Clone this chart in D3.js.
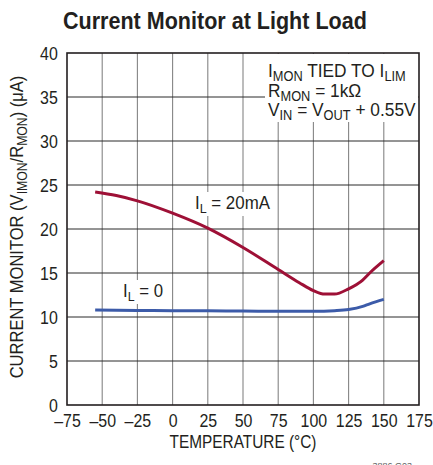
<!DOCTYPE html>
<html><head><meta charset="utf-8">
<script src="https://cdn.jsdelivr.net/npm/d3@7"></script>
<style>
body{margin:0;background:#fff;}
svg text{font-family:"Liberation Sans",Arial,sans-serif;fill:#231f20;}
</style></head>
<body><svg id="c" width="433" height="465"></svg>
<script>
const xTicks = [-75,-50,-25,0,25,50,75,100,125,150,175];
const yTicks = [0,5,10,15,20,25,30,35,40];
const temp20 = [-55,-40,-25,0,25,50,75,90,100,108,115,125,135,140,150];
const cur20  = [24.2,23.8,23.2,21.8,20.1,17.9,15.4,13.9,13.0,12.6,12.6,13.2,14.2,15.0,16.4];
const temp0  = [-55,-25,0,25,50,75,100,115,125,135,140,150];
const cur0   = [10.8,10.75,10.72,10.7,10.68,10.65,10.65,10.72,10.85,11.2,11.5,12.0];

const svg = d3.select("#c");
const L=67,R=419,T=53,B=405;
const x = d3.scaleLinear().domain([-75,175]).range([L,R]);
const y = d3.scaleLinear().domain([0,40]).range([B,T]);

// horizontally condense a text around its anchor x so that it spans target width
function fit(t, target, ax){
  const w = t.node().getBBox().width;
  const k = target / w;
  t.attr("transform", `translate(${ax},0) scale(${k},1) translate(${-ax},0)`);
  return t;
}

// grid
svg.append("g").selectAll("line").data(xTicks.slice(1,-1)).join("line")
  .attr("x1",d=>x(d)).attr("x2",d=>x(d)).attr("y1",T).attr("y2",B)
  .attr("stroke","#858585").attr("stroke-width",1.1);
svg.append("g").selectAll("line").data(yTicks.slice(1,-1)).join("line")
  .attr("x1",L).attr("x2",R).attr("y1",d=>y(d)).attr("y2",d=>y(d))
  .attr("stroke","#2a2a2a").attr("stroke-width",1);

// annotation box background
svg.append("rect").attr("x",265).attr("y",T+1).attr("width",R-265-1).attr("height",68).attr("fill","#fff");

// axes
const xa = svg.append("g").attr("transform",`translate(0,${B})`)
  .call(d3.axisBottom(x).tickValues(xTicks).tickSize(0).tickPadding(9).tickFormat(d=>d<0?"\u2013"+(-d):d));
const ya = svg.append("g").attr("transform",`translate(${L},0)`)
  .call(d3.axisLeft(y).tickValues(yTicks).tickSize(0).tickPadding(11));
[xa,ya].forEach(a=>{a.select(".domain").remove();a.selectAll("text").attr("font-size",19).attr("font-family",null)
  .style("fill","#231f20").attr("transform","scale(0.84,1)");});

svg.append("rect").attr("x",L).attr("y",T).attr("width",R-L).attr("height",B-T)
  .attr("fill","none").attr("stroke","#231f20").attr("stroke-width",1.6);

// curves
const line = d3.line().x(d=>x(d[0])).y(d=>y(d[1])).curve(d3.curveMonotoneX);
svg.append("path").datum(d3.zip(temp20,cur20)).attr("d",line)
  .attr("fill","none").attr("stroke","#9e1036").attr("stroke-width",3);
svg.append("path").datum(d3.zip(temp0,cur0)).attr("d",line)
  .attr("fill","none").attr("stroke","#3c5ba9").attr("stroke-width",3);

// helper for subscripted text
function sub(g, xx, yy, parts, size, anchor){
  const t = g.append("text").attr("x",xx).attr("y",yy).attr("font-size",size);
  if(anchor) t.attr("text-anchor",anchor);
  let shift=0;
  parts.forEach(p=>{
    const ts = t.append("tspan").text(p[0]);
    if(p[1]){ ts.attr("font-size",size*0.74).attr("dy",4-shift); shift=4; }
    else { ts.attr("dy",-shift); shift=0; }
  });
  return t;
}

// curve labels
svg.append("rect").attr("x",191).attr("y",192).attr("width",82).attr("height",24).attr("fill","#fff");
fit(sub(svg,195,209,[["I"],["L",1],[" = 20mA"]],18), 75, 195);
svg.append("rect").attr("x",119).attr("y",280).attr("width",48).attr("height",24).attr("fill","#fff");
fit(sub(svg,123,297,[["I"],["L",1],[" = 0"]],18), 40, 123);

// annotation
const a1 = sub(svg,268,77,[["I"],["MON",1],[" TIED TO I"],["LIM",1]],19);
const a2 = sub(svg,268,97,[["R"],["MON",1],[" = 1k\u03A9"]],19);
const a3 = sub(svg,268,116,[["V"],["IN",1],[" = V"],["OUT",1],[" + 0.55V"]],19);
const k = 148 / a3.node().getBBox().width;
[a1,a2,a3].forEach(t=>t.attr("transform",`translate(268,0) scale(${k},1) translate(-268,0)`));

// title
fit(svg.append("text").attr("x",63).attr("y",29)
  .attr("font-size",24).attr("font-weight","bold").text("Current Monitor at Light Load"), 304, 63);

// axis titles
fit(svg.append("text").attr("x",243).attr("y",448).attr("text-anchor","middle").attr("font-size",19)
  .text("TEMPERATURE (\u00B0C)"), 147, 243);
const yl = sub(svg.append("g").attr("transform","translate(23,227) rotate(-90)"),0,0,
  [["CURRENT MONITOR (V"],["IMON",1],["/R"],["MON",1],[") (\u03BCA)"]],19,"middle");
fit(yl, 303, 0);

svg.append("text").attr("x",412).attr("y",469).attr("text-anchor","end").attr("font-size",9)
  .style("fill","#666").text("3886 G03");
</script></body></html>
